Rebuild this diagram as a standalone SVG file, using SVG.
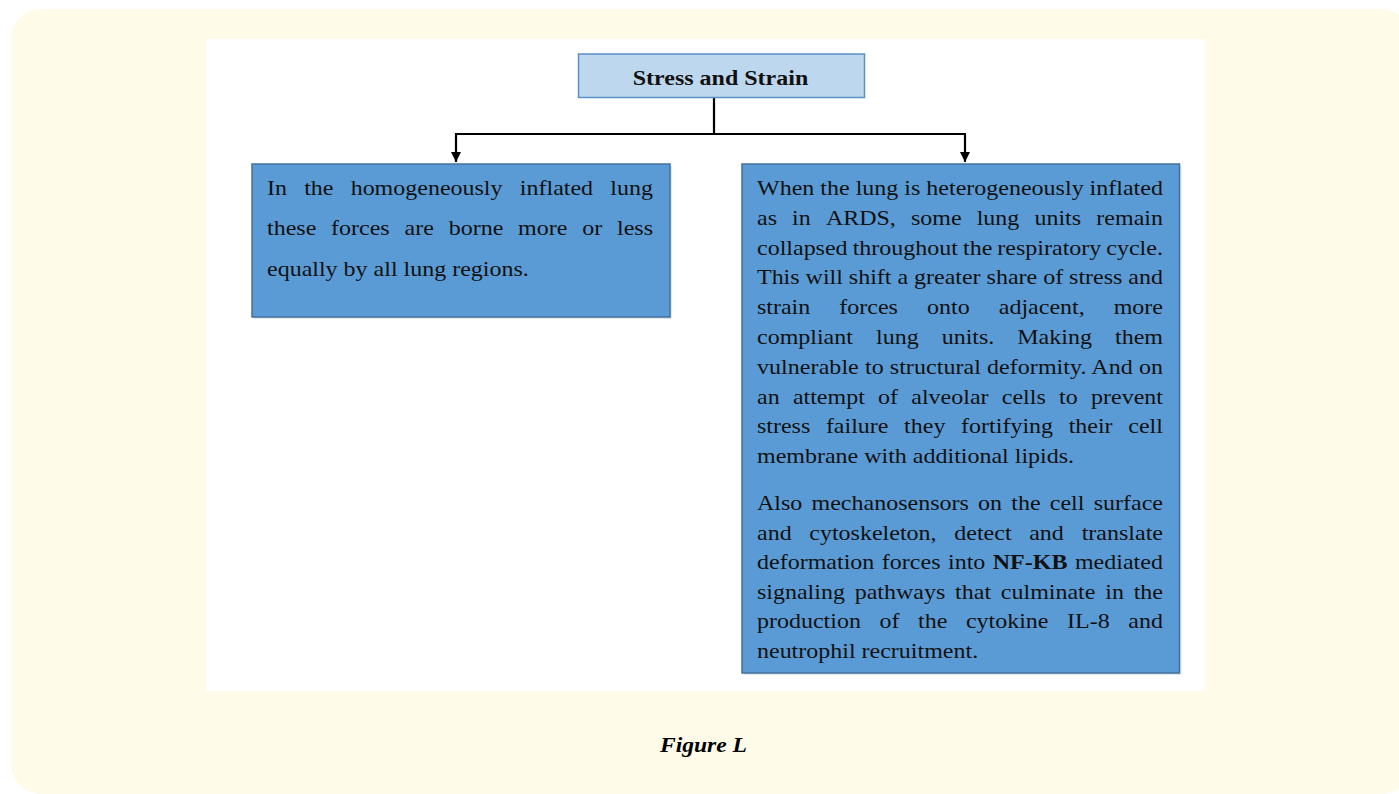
<svg xmlns="http://www.w3.org/2000/svg" width="1399" height="794" viewBox="0 0 1399 794">
  <defs>
    <marker id="arrow" viewBox="0 0 10 10" refX="10" refY="5" markerWidth="10" markerHeight="10" markerUnits="userSpaceOnUse" orient="auto">
      <path d="M0,0 L10,5 L0,10 Z" fill="#000"/>
    </marker>
    <style>
      .panel { fill: #fffbe9; }
      .sheet { fill: #ffffff; }
      .head { fill: #bdd7ee; stroke: #5b8fc7; stroke-width: 1.5; }
      .box { fill: #5b9bd5; stroke: #41719c; stroke-width: 1.5; }
      .shadow { fill: #c8ccd2; opacity: 0.5; }
      .wire { fill: none; stroke: #000; stroke-width: 2.2; }
      .txt { font-family: "Liberation Serif", "Times New Roman", serif; font-size: 20px; fill: #111; }
      .bold { font-weight: bold; }
      .cap { font-family: "Liberation Serif", "Times New Roman", serif; font-size: 22px; font-weight: bold; font-style: italic; fill: #000; }
    </style>
  </defs>

  <!-- page backdrop -->
  <rect class="panel" x="11" y="9" width="1400" height="785" rx="30"/>
  <rect class="sheet" x="206" y="39" width="999" height="652"/>

  <!-- connectors -->
  <g id="connectors">
    <path class="wire" d="M714,97 V134 M455,134 H966"/>
    <path class="wire" d="M456,134 V162" marker-end="url(#arrow)"/>
    <path class="wire" d="M965,134 V162" marker-end="url(#arrow)"/>
  </g>

  <!-- heading -->
  <g id="node-stress-strain">
    <rect class="head" x="578.5" y="54" width="286" height="43.5"/>
    <text class="txt bold" x="720.5" y="85" text-anchor="middle" transform="matrix(1.2 0 0 1 -144.1 0)">Stress and Strain</text>
  </g>

  <!-- homogeneous lung: justified lines placed word by word, last word flush right -->
  <g id="node-homogeneous">
    <rect class="shadow" x="254" y="166" width="418" height="153"/>
    <rect class="box" x="252" y="164" width="418" height="153"/>
    <g transform="matrix(1.2 0 0 1 -53.4 0)">
      <text class="txt" y="195"><tspan x="267">In</tspan><tspan x="298">the</tspan><tspan x="336.7">homogeneously</tspan><tspan x="477.7">inflated</tspan></text>
      <text class="txt" x="588.7" y="195" text-anchor="end">lung</text>
      <text class="txt" y="235.5"><tspan x="267">these</tspan><tspan x="320.4">forces</tspan><tspan x="381.6">are</tspan><tspan x="418.4">borne</tspan><tspan x="476.2">more</tspan><tspan x="529.7">or</tspan></text>
      <text class="txt" x="588.7" y="235.5" text-anchor="end">less</text>
      <text class="txt" x="267" y="276">equally by all lung regions.</text>
    </g>
  </g>

  <!-- heterogeneous lung -->
  <g id="node-heterogeneous">
    <rect class="shadow" x="744" y="166" width="437.5" height="509"/>
    <rect class="box" x="742" y="164" width="437.5" height="509"/>
    <g transform="matrix(1.2 0 0 1 -151.4 0)">
      <text class="txt" x="757" y="195" textLength="338.3" lengthAdjust="spacing">When the lung is heterogeneously inflated</text>

      <text class="txt" y="224.8"><tspan x="757">as</tspan><tspan x="786.2">in</tspan><tspan x="814.4">ARDS,</tspan><tspan x="885.3">some</tspan><tspan x="940.1">lung</tspan><tspan x="988.2">units</tspan></text>
      <text class="txt" x="1095.3" y="224.8" text-anchor="end">remain</text>

      <text class="txt" x="757" y="254.6" word-spacing="-0.8" textLength="338.3" lengthAdjust="spacing">collapsed throughout the respiratory cycle.</text>

      <text class="txt" x="757" y="284.4" textLength="338.3" lengthAdjust="spacing">This will shift a greater share of stress and</text>

      <text class="txt" y="314.2"><tspan x="757">strain</tspan><tspan x="825.6">forces</tspan><tspan x="898.7">onto</tspan><tspan x="958.5">adjacent,</tspan></text>
      <text class="txt" x="1095.3" y="314.2" text-anchor="end">more</text>

      <text class="txt" y="344"><tspan x="757">compliant</tspan><tspan x="856.2">lung</tspan><tspan x="910.9">units.</tspan><tspan x="973.9">Making</tspan></text>
      <text class="txt" x="1095.3" y="344" text-anchor="end">them</text>

      <text class="txt" x="757" y="373.8" textLength="338.3" lengthAdjust="spacing">vulnerable to structural deformity. And on</text>

      <text class="txt" y="403.6"><tspan x="757">an</tspan><tspan x="786.9">attempt</tspan><tspan x="857.9">of</tspan><tspan x="885.6">alveolar</tspan><tspan x="961">cells</tspan><tspan x="1008.7">to</tspan></text>
      <text class="txt" x="1095.3" y="403.6" text-anchor="end">prevent</text>

      <text class="txt" y="433.4"><tspan x="757">stress</tspan><tspan x="814.4">failure</tspan><tspan x="879.6">they</tspan><tspan x="927.1">fortifying</tspan><tspan x="1016.7">their</tspan></text>
      <text class="txt" x="1095.3" y="433.4" text-anchor="end">cell</text>

      <text class="txt" x="757" y="463">membrane with additional lipids.</text>

      <text class="txt" x="757" y="510" word-spacing="2.7" textLength="338.3" lengthAdjust="spacing">Also mechanosensors on the cell surface</text>

      <text class="txt" y="539.6"><tspan x="757">and</tspan><tspan x="800.6">cytoskeleton,</tspan><tspan x="921.4">detect</tspan><tspan x="983.8">and</tspan></text>
      <text class="txt" x="1095.3" y="539.6" text-anchor="end">translate</text>

      <text class="txt" x="757" y="569.2" word-spacing="1.2" textLength="338.3" lengthAdjust="spacing">deformation forces into <tspan class="bold">NF-KB</tspan> mediated</text>

      <text class="txt" y="598.8"><tspan x="757">signaling</tspan><tspan x="838.4">pathways</tspan><tspan x="922.1">that</tspan><tspan x="960.2">culminate</tspan><tspan x="1047.2">in</tspan></text>
      <text class="txt" x="1095.3" y="598.8" text-anchor="end">the</text>

      <text class="txt" y="628.4"><tspan x="757">production</tspan><tspan x="859.1">of</tspan><tspan x="891.2">the</tspan><tspan x="931.1">cytokine</tspan><tspan x="1015.4">IL-8</tspan></text>
      <text class="txt" x="1095.3" y="628.4" text-anchor="end">and</text>

      <text class="txt" x="757" y="658">neutrophil recruitment.</text>
    </g>
  </g>

  <!-- caption -->
  <text class="cap" x="703.5" y="752" text-anchor="middle" textLength="87" lengthAdjust="spacingAndGlyphs">Figure L</text>
</svg>
